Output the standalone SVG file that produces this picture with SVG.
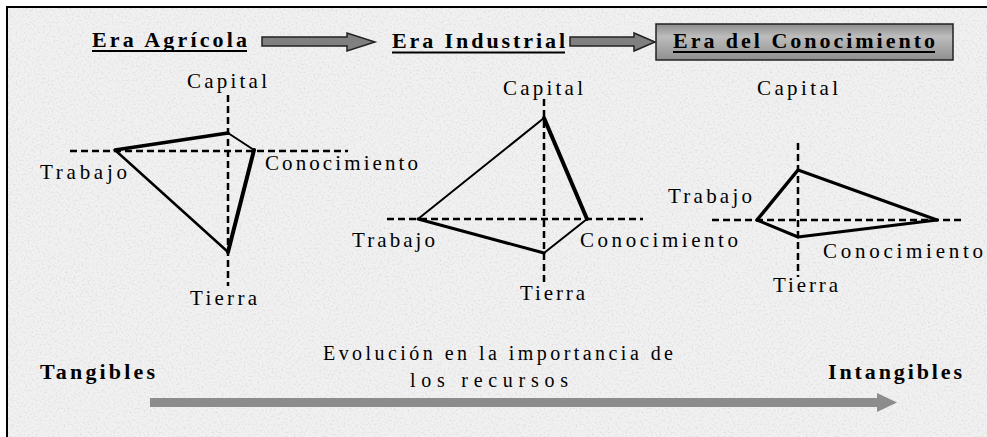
<svg xmlns="http://www.w3.org/2000/svg" width="987" height="437" viewBox="0 0 987 437">
<defs>
<style>
.t{font-family:"Liberation Serif","Times New Roman",serif;fill:#000}
.title{font-size:22px;font-weight:bold}
.lab{font-size:21px}
.small{font-size:20px}
.bold{font-size:22px;font-weight:bold}
.axis{stroke:#000;stroke-width:2.5;stroke-dasharray:7 4;fill:none}
.edge{stroke:#000;fill:none;stroke-linecap:round;stroke-linejoin:round}
.ul{stroke:#000;stroke-width:2}
.tarrow{fill:#808080;stroke:#222;stroke-width:1.5}
</style>
<filter id="tex" x="0" y="0" width="100%" height="100%">
<feTurbulence type="fractalNoise" baseFrequency="0.5" numOctaves="2" seed="7"/>
<feColorMatrix type="matrix" values="0 0 0 0 0.72  0 0 0 0 0.72  0 0 0 0 0.74  2.2 0 0 0 -1.0"/>
</filter>
<linearGradient id="boxg" x1="0" y1="0" x2="0" y2="1">
<stop offset="0" stop-color="#8c8c8c"/>
<stop offset="0.35" stop-color="#bdbdbd"/>
<stop offset="1" stop-color="#8f8f8f"/>
</linearGradient>
</defs>
<rect x="0" y="0" width="987" height="437" fill="#fff"/>
<rect x="7" y="7" width="980" height="430" fill="#f1f1f1"/>
<rect x="7" y="7" width="980" height="430" filter="url(#tex)"/>
<path d="M7 437 V7 H987" fill="none" stroke="#000" stroke-width="2"/>

<g id="connectors">
<polygon id="arrow1" class="tarrow" points="262,37 347,37 347,33 375,42 347,51 347,46 262,46"/>
<polygon id="arrow2" class="tarrow" points="570,37 634,37 634,33 655,42 634,51 634,46 570,46"/>
<polygon id="arrow-bottom" fill="#8c8c8c" points="150,398 877,398 877,393 897,402.5 877,412 877,407 150,407"/>
</g>

<g id="era-agricola">
<text class="t title" x="92" y="47" textLength="155" lengthAdjust="spacing">Era Agrícola</text>
<line class="ul" x1="92" y1="51" x2="247" y2="51"/>
</g>
<g id="era-industrial">
<text class="t title" x="392" y="48" textLength="173" lengthAdjust="spacing">Era Industrial</text>
<line class="ul" x1="392" y1="52.5" x2="565" y2="52.5"/>
</g>
<g id="era-conocimiento">
<rect x="656" y="24" width="297" height="36" fill="url(#boxg)" stroke="#222" stroke-width="1.5"/>
<text class="t title" x="673" y="48" textLength="262" lengthAdjust="spacing">Era del Conocimiento</text>
<line class="ul" x1="673" y1="52" x2="935" y2="52"/>
</g>

<g id="diagrama-agricola">
<line class="axis" x1="228" y1="95" x2="228" y2="286"/>
<line class="axis" x1="70" y1="151" x2="348" y2="151"/>
<path class="edge" stroke-width="3.5" d="M115 150 L228 133"/>
<path class="edge" stroke-width="2" d="M228 133 L254 150"/>
<path class="edge" stroke-width="4" d="M254 150 L228 252"/>
<path class="edge" stroke-width="2.5" d="M228 252 L115 150"/>
<text class="t lab" x="187" y="88" textLength="80" lengthAdjust="spacing">Capital</text>
<text class="t lab" x="40" y="179" textLength="87" lengthAdjust="spacing">Trabajo</text>
<text class="t lab" x="265" y="170" textLength="153" lengthAdjust="spacing">Conocimiento</text>
<text class="t lab" x="190" y="305" textLength="67" lengthAdjust="spacing">Tierra</text>
</g>

<g id="diagrama-industrial">
<line class="axis" x1="544" y1="99" x2="544" y2="286"/>
<line class="axis" x1="387" y1="219" x2="643" y2="219"/>
<path class="edge" stroke-width="2" d="M544 118 L418 219"/>
<path class="edge" stroke-width="4" d="M544 118 L587 219"/>
<path class="edge" stroke-width="3" d="M418 219 L544 253"/>
<path class="edge" stroke-width="2" d="M544 253 L587 219"/>
<text class="t lab" x="503" y="95" textLength="80" lengthAdjust="spacing">Capital</text>
<text class="t lab" x="352" y="247" textLength="83" lengthAdjust="spacing">Trabajo</text>
<text class="t lab" x="580" y="247" textLength="158" lengthAdjust="spacing">Conocimiento</text>
<text class="t lab" x="520" y="300" textLength="65" lengthAdjust="spacing">Tierra</text>
</g>

<g id="diagrama-conocimiento">
<line class="axis" x1="798" y1="143" x2="798" y2="277"/>
<line class="axis" x1="712" y1="220" x2="962" y2="220"/>
<path class="edge" stroke-width="3.5" d="M798 170 L757 220"/>
<path class="edge" stroke-width="3" d="M798 170 L937 220"/>
<path class="edge" stroke-width="3" d="M757 220 L798 237"/>
<path class="edge" stroke-width="3" d="M798 237 L937 220"/>
<text class="t lab" x="757" y="95" textLength="81" lengthAdjust="spacing">Capital</text>
<text class="t lab" x="668" y="203" textLength="84" lengthAdjust="spacing">Trabajo</text>
<text class="t lab" x="823" y="258" textLength="160" lengthAdjust="spacing">Conocimiento</text>
<text class="t lab" x="773" y="292" textLength="65" lengthAdjust="spacing">Tierra</text>
</g>

<g id="evolucion">
<text class="t bold" x="40" y="379" textLength="115" lengthAdjust="spacing">Tangibles</text>
<text class="t small" x="323" y="360" textLength="350" lengthAdjust="spacing">Evolución en la importancia de</text>
<text class="t small" x="410" y="387" textLength="158" lengthAdjust="spacing">los recursos</text>
<text class="t bold" x="828" y="379" textLength="134" lengthAdjust="spacing">Intangibles</text>
</g>
</svg>
